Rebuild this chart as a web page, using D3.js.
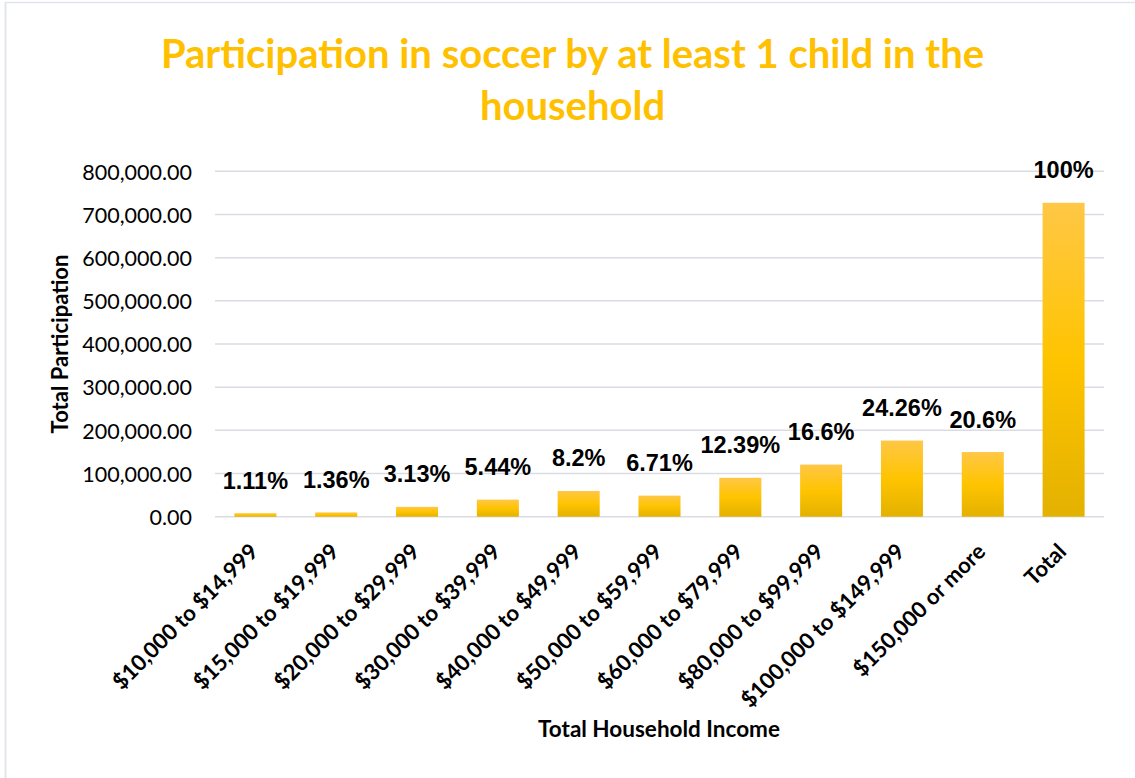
<!DOCTYPE html>
<html>
<head>
<meta charset="utf-8">
<script src="https://cdn.jsdelivr.net/npm/d3@7"></script>
<style>
  html, body { margin: 0; padding: 0; background: #fff; }
  svg { display: block; }
</style>
</head>
<body>
<svg id="chart" width="1135" height="778"></svg>
<script>
// Income brackets and each bracket's share of households with a child playing soccer
const categories = [
  "$10,000 to $14,999", "$15,000 to $19,999", "$20,000 to $29,999",
  "$30,000 to $39,999", "$40,000 to $49,999", "$50,000 to $59,999",
  "$60,000 to $79,999", "$80,000 to $99,999", "$100,000 to $149,999",
  "$150,000 or more", "Total"
];
const sharePct = [1.11, 1.36, 3.13, 5.44, 8.2, 6.71, 12.39, 16.6, 24.26, 20.6, 100];
const shareLabels = ["1.11%", "1.36%", "3.13%", "5.44%", "8.2%", "6.71%", "12.39%", "16.6%", "24.26%", "20.6%", "100%"];
const totalParticipation = 727000;
const yTicks = [0, 100000, 200000, 300000, 400000, 500000, 600000, 700000, 800000];

const svg = d3.select("#chart");
const W = 1135, H = 778;
const gold = "#FFC000";
const gridColor = "#D9DDE3";
const calibriLike = "Lato, 'Open Sans', sans-serif";

// chart area frame (left and top edges)
svg.append("line").attr("x1", 5.5).attr("x2", 5.5).attr("y1", 2).attr("y2", H)
  .attr("stroke", "#E1E5EB").attr("stroke-width", 2);
svg.append("line").attr("x1", 5).attr("x2", W).attr("y1", 2.5).attr("y2", 2.5)
  .attr("stroke", "#E1E5EB").attr("stroke-width", 1.5);

const data = categories.map((c, i) => ({
  cat: c,
  value: sharePct[i] / 100 * totalParticipation,
  label: shareLabels[i]
}));

const x = d3.scaleBand().domain(categories).range([215, 1104])
  .paddingInner(0.48).paddingOuter(0.24);
const y = d3.scaleLinear().domain([0, 800000]).range([516.7, 171.3]);

// bar gradient: light top, gold middle, darker base
const defs = svg.append("defs");
const grad = defs.append("linearGradient").attr("id", "barGrad")
  .attr("x1", 0).attr("y1", 0).attr("x2", 0).attr("y2", 1);
grad.append("stop").attr("offset", "0%").attr("stop-color", "#FFC746");
grad.append("stop").attr("offset", "50%").attr("stop-color", "#FFC400");
grad.append("stop").attr("offset", "100%").attr("stop-color", "#E3B100");

// title
const title = svg.append("text")
  .attr("text-anchor", "middle")
  .attr("fill", gold)
  .style("font-family", calibriLike)
  .style("font-weight", "700")
  .style("font-size", "40px");
title.append("tspan").attr("x", 572.5).attr("y", 68)
  .text("Participation in soccer by at least 1 child in the");
title.append("tspan").attr("x", 572.5).attr("y", 120).text("household");

// horizontal gridlines
svg.append("g").selectAll("line").data(yTicks).join("line")
  .attr("x1", 215).attr("x2", 1104)
  .attr("y1", d => y(d)).attr("y2", d => y(d))
  .attr("stroke", gridColor).attr("stroke-width", 1.5);

// y axis labels
const yAxis = d3.axisLeft(y).tickValues(yTicks)
  .tickFormat(d3.format(",.2f")).tickSize(0).tickPadding(0);
const gy = svg.append("g").attr("transform", "translate(192,0)").call(yAxis);
gy.select(".domain").remove();
gy.selectAll("text")
  .style("font-family", calibriLike)
  .style("font-size", "21.5px")
  .attr("fill", "#000")
  .attr("dy", "0.36em");

// bars
svg.append("g").selectAll("rect").data(data).join("rect")
  .attr("x", d => x(d.cat))
  .attr("width", x.bandwidth())
  .attr("y", d => y(d.value))
  .attr("height", d => y(0) - y(d.value))
  .attr("fill", "url(#barGrad)");

// value labels
svg.append("g").selectAll("text").data(data).join("text")
  .attr("x", d => x(d.cat) + x.bandwidth() / 2)
  .attr("y", d => y(d.value) - 24.5)
  .attr("text-anchor", "middle")
  .style("font-family", "'Liberation Sans', Arial, sans-serif")
  .style("font-weight", "700")
  .style("font-size", "23.5px")
  .attr("fill", "#000")
  .text(d => d.label);

// x axis category labels, rotated
const xAxis = d3.axisBottom(x).tickSize(0).tickPadding(0);
const gx = svg.append("g").call(xAxis);
gx.select(".domain").remove();
gx.selectAll(".tick").attr("transform", d => `translate(${x(d) + x.bandwidth() / 2},0)`);
gx.selectAll("text")
  .attr("x", 0).attr("y", 0).attr("dy", 0)
  .attr("transform", "translate(4,553) rotate(-45)")
  .attr("text-anchor", "end")
  .style("font-family", calibriLike)
  .style("font-weight", "700")
  .style("font-size", "22px")
  .attr("fill", "#000");

// axis titles
svg.append("text")
  .attr("transform", "translate(68,344) rotate(-90)")
  .attr("text-anchor", "middle")
  .style("font-family", calibriLike)
  .style("font-weight", "700")
  .style("font-size", "22px")
  .attr("fill", "#000")
  .text("Total Participation");

svg.append("text")
  .attr("x", 659).attr("y", 737)
  .attr("text-anchor", "middle")
  .style("font-family", calibriLike)
  .style("font-weight", "700")
  .style("font-size", "22.5px")
  .attr("fill", "#000")
  .text("Total Household Income");
</script>
</body>
</html>
